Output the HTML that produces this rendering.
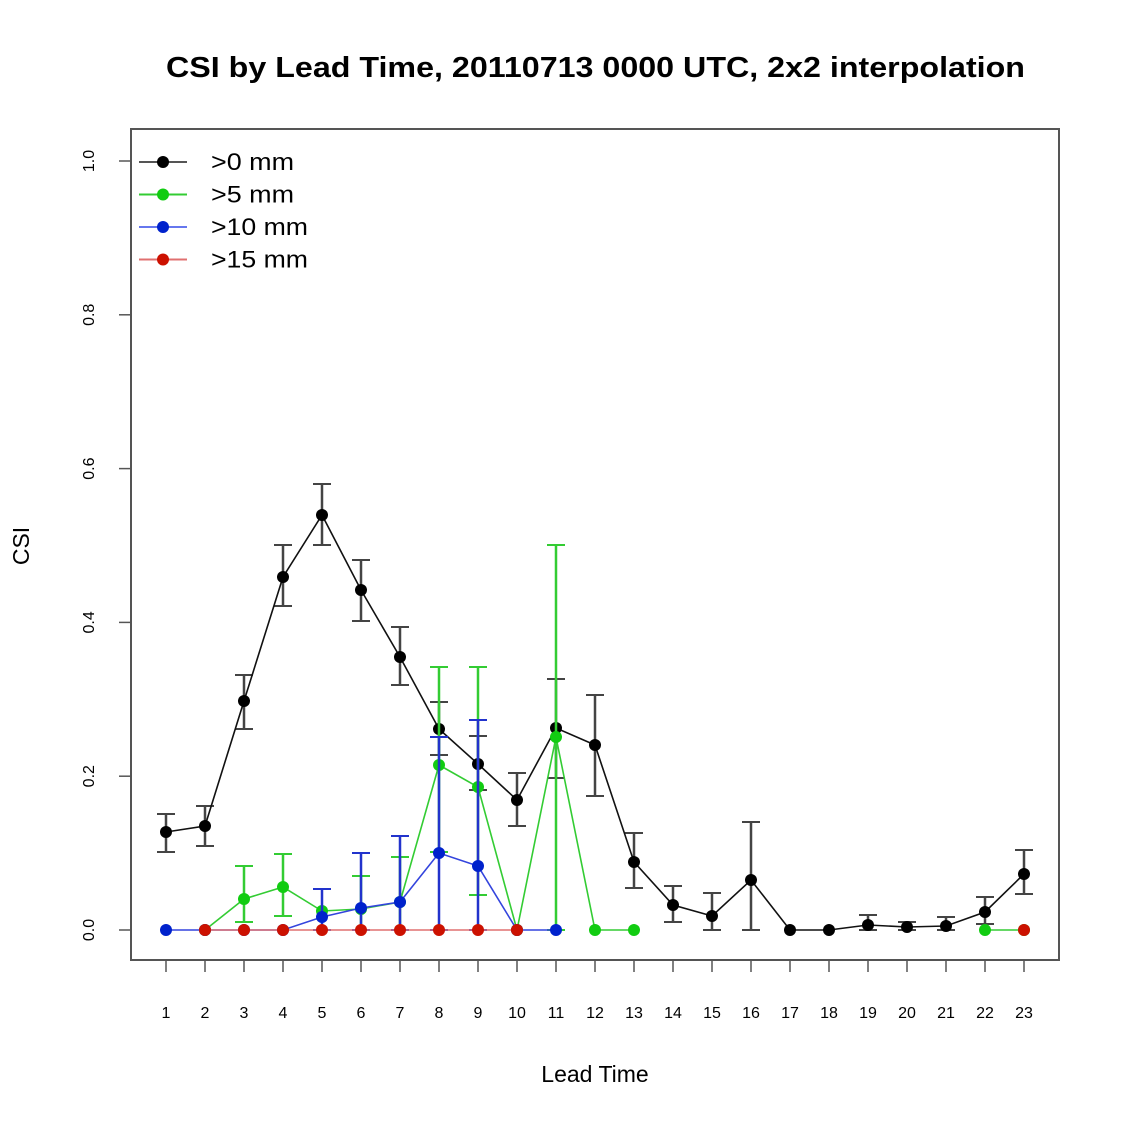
<!DOCTYPE html>
<html><head><meta charset="utf-8"><style>body{margin:0;background:#fff}svg{display:block}</style></head>
<body>
<svg id="s" width="1125" height="1125" xmlns="http://www.w3.org/2000/svg" font-family="Liberation Sans, sans-serif">
<rect width="1125" height="1125" fill="#fff"/>
<text x="166" y="77" font-size="29" font-weight="bold" textLength="859" lengthAdjust="spacingAndGlyphs">CSI by Lead Time, 20110713 0000 UTC, 2x2 interpolation</text>
<rect x="131" y="129" width="928" height="831" fill="none" stroke="#555" stroke-width="2"/>
<text x="595" y="1082" font-size="23" text-anchor="middle">Lead Time</text>
<text transform="translate(29,546) rotate(-90)" font-size="23" text-anchor="middle">CSI</text>
<g id="g"></g>
</svg>
<script>
var g=document.getElementById('g'),h='';
function X(i){return 166+(i-1)*39;}
function Y(v){return 930-v*769;}
for(var i=1;i<=23;i++){h+='<line x1="'+X(i)+'" y1="960" x2="'+X(i)+'" y2="972" stroke="#555" stroke-width="1.5"/><text x="'+X(i)+'" y="1018" font-size="16" text-anchor="middle">'+i+'</text>';}
h+='<line x1="166" y1="960" x2="1024" y2="960" stroke="#555" stroke-width="1.5"/>';
[0,0.2,0.4,0.6,0.8,1.0].forEach(function(v){var y=Y(v);h+='<line x1="119" y1="'+y+'" x2="131" y2="'+y+'" stroke="#555" stroke-width="1.5"/><text transform="translate(94,'+y+') rotate(-90)" font-size="16" text-anchor="middle">'+v.toFixed(1)+'</text>';});
h+='<line x1="131" y1="161" x2="131" y2="930" stroke="#555" stroke-width="1.5"/>';
function series(pts,col,lc,bc){
 pts.forEach(function(p){if(p[2]!=null){var x=X(p[0]);h+='<line x1="'+x+'" y1="'+p[2]+'" x2="'+x+'" y2="'+p[3]+'" stroke="'+bc+'" stroke-width="2.5"/><line x1="'+(x-9)+'" y1="'+p[2]+'" x2="'+(x+9)+'" y2="'+p[2]+'" stroke="'+bc+'" stroke-width="2"/><line x1="'+(x-9)+'" y1="'+p[3]+'" x2="'+(x+9)+'" y2="'+p[3]+'" stroke="'+bc+'" stroke-width="2"/>';}});
 var segs=[[]];pts.forEach(function(p,k){if(k>0&&p[0]!=pts[k-1][0]+1)segs.push([]);segs[segs.length-1].push(X(p[0])+','+p[1]);});
 segs.forEach(function(s){h+='<polyline points="'+s.join(' ')+'" fill="none" stroke="'+lc+'" stroke-width="1.6"/>';});
 pts.forEach(function(p){h+='<circle cx="'+X(p[0])+'" cy="'+p[1]+'" r="6" fill="'+col+'"/>';});
}
series([[1,832,814,852],[2,826,806,846],[3,701,675,729],[4,577,545,606],[5,515,484,545],[6,590,560,621],[7,657,627,685],[8,729,702,755],[9,764,736,790],[10,800,773,826],[11,728,679,778],[12,745,695,796],[13,862,833,888],[14,905,886,922],[15,916,893,930],[16,880,822,930],[17,930],[18,930],[19,925,915,930],[20,927,922,930],[21,926,917,930],[22,912,897,924],[23,874,850,894]],'#000','#111','#444');
series([[2,930],[3,899,866,922],[4,887,854,916],[5,911],[6,909,876,930],[7,902,857,930],[8,765,667,852],[9,787,667,895],[10,930],[11,737,545,930],[12,930],[13,930],[22,930],[23,930]],'#11cc11','#33cc33','#33cc33');
series([[1,930],[2,930],[3,930],[4,930],[5,917,889,930],[6,908,853,930],[7,902,836,930],[8,853,737,930],[9,866,720,930],[10,930],[11,930]],'#0022cc','#3344dd','#2233cc');
series([[2,930],[3,930],[4,930],[5,930],[6,930],[7,930],[8,930],[9,930],[10,930],[23,930]],'#cc1100','#e07070','#cc1100');
var L=[['>0 mm','#000','#555',83],['>5 mm','#11cc11','#33cc33',83],['>10 mm','#0022cc','#6677ee',97],['>15 mm','#cc1100','#e07070',97]];
L.forEach(function(l,k){var y=162+k*32.5;h+='<line x1="139" y1="'+y+'" x2="187" y2="'+y+'" stroke="'+l[2]+'" stroke-width="2"/><circle cx="163" cy="'+y+'" r="6" fill="'+l[1]+'"/><text x="211" y="'+(y+8)+'" font-size="24" textLength="'+l[3]+'" lengthAdjust="spacingAndGlyphs">'+l[0].replace('>','&gt;')+'</text>';});
g.innerHTML=h;
</script>
</body></html>
